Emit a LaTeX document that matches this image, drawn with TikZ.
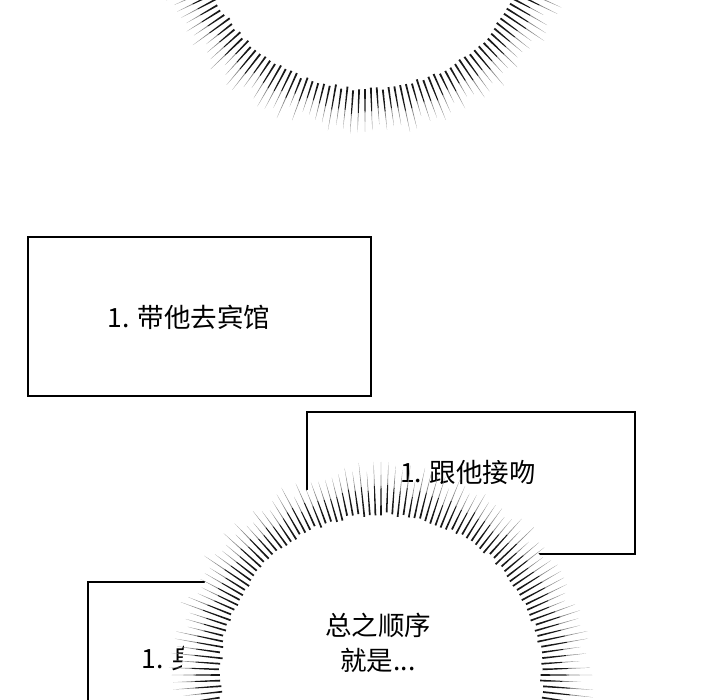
\documentclass[tikz,border=0pt]{standalone}
\usepackage{fontspec}
\newfontfamily\cjk{Noto Sans CJK SC}
\usetikzlibrary{positioning}

\begin{document}
\begin{tikzpicture}[x=1pt,y=-1pt]
\tikzset{
	box/.style={draw=black, line width=2pt, fill=white, inner sep=0pt},
	txt/.style={font=\cjk\fontsize{26.5}{35}\selectfont, align=center},
	ray/.style={fill=black!90},
	rayend/.style={fill=black!45}
}
\pgfmathsetseed{42}

% bounding box
\fill[white] (0,0) rectangle (720,700);
\useasboundingbox (0,0) rectangle (720,700);

% centers of the two bursts
\coordinate (top_c) at (365,-80);
\coordinate (bot_c) at (381,675);

% boxes
\node[box, minimum width=343pt, minimum height=159pt] (box_1) at (199.5,316.5) {};
\node[box, minimum width=328pt, minimum height=142pt] (box_2) at (471,483) {};
\node[box, minimum width=260pt, minimum height=160pt, anchor=north west] (box_3) at (87,581) {};

% texts of the boxes
\node[txt] (t_1) at (189,317) {1. 带他去宾馆};
\node[txt, anchor=west] (t_3) at (138,658) {1. 身};

% white discs
\fill[white] (top_c) circle (200pt);
\fill[white] (bot_c) circle (199pt);
\node[txt] (t_2) at (468,472) {1. 跟他接吻};

% rays -- top
\begin{scope}[shift={(top_c)}]
\foreach \a in {0,2,...,358} {
	\pgfmathsetmacro\ri{167+4*rnd}
	\pgfmathsetmacro\ro{217-16*rnd}
	\pgfmathsetmacro\rm{\ri+0.55*(\ro-\ri)}
	\fill[ray] (\a-0.32:\ri pt) -- (\a+0.32:\ri pt) -- (\a+0.14:\rm pt) -- (\a-0.14:\rm pt) -- cycle;
	\fill[rayend] (\a-0.14:\rm pt) -- (\a+0.14:\rm pt) -- (\a:\ro pt) -- cycle;
}
\end{scope}

% rays -- bottom
\begin{scope}[shift={(bot_c)}]
\foreach \a in {0,2,...,358} {
	\pgfmathsetmacro\ri{159+4*rnd}
	\pgfmathsetmacro\ro{214-16*rnd}
	\pgfmathsetmacro\rm{\ri+0.55*(\ro-\ri)}
	\fill[ray] (\a-0.32:\ri pt) -- (\a+0.32:\ri pt) -- (\a+0.14:\rm pt) -- (\a-0.14:\rm pt) -- cycle;
	\fill[rayend] (\a-0.14:\rm pt) -- (\a+0.14:\rm pt) -- (\a:\ro pt) -- cycle;
}
\end{scope}

% centre text
\node[txt] (t_c) at (378,643) {总之顺序\\就是...};

\end{tikzpicture}
\end{document}
